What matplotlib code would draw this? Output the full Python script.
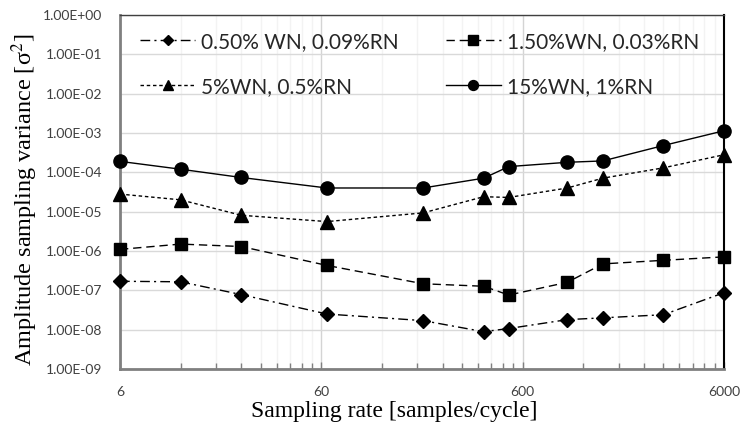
import matplotlib
matplotlib.use("Agg")
import matplotlib.pyplot as plt
from matplotlib.ticker import FixedLocator, NullFormatter, FuncFormatter

# Sampling rates [samples/cycle]
rates = [6, 12, 24, 64, 192, 384, 512, 1000, 1500, 3000, 6000]

# Amplitude sampling variance for each noise level
var_wn050 = [1.7e-7, 1.65e-7, 7.8e-8, 2.5e-8, 1.7e-8, 8.9e-9, 1.07e-8, 1.8e-8, 2.0e-8, 2.4e-8, 8.7e-8]
var_wn150 = [1.1e-6, 1.5e-6, 1.3e-6, 4.3e-7, 1.47e-7, 1.27e-7, 7.6e-8, 1.6e-7, 4.7e-7, 5.8e-7, 7.1e-7]
var_wn5 = [2.8e-5, 2.0e-5, 8.1e-6, 5.6e-6, 9.3e-6, 2.4e-5, 2.3e-5, 4.0e-5, 7.1e-5, 1.3e-4, 2.8e-4]
var_wn15 = [1.9e-4, 1.2e-4, 7.4e-5, 4.0e-5, 4.0e-5, 7.1e-5, 1.4e-4, 1.8e-4, 1.95e-4, 4.8e-4, 1.14e-3]

labels = ["0.50% WN, 0.09%RN", "1.50%WN, 0.03%RN", "5%WN, 0.5%RN", "15%WN, 1%RN"]
x_ticks = [6, 60, 600, 6000]
y_ticks = [10.0 ** e for e in range(-9, 1)]

# Minor x positions: multiples of each decade start (12, 18, ..., 54, 120, ...)
x_minor = [k * base for base in (6, 60, 600) for k in range(2, 10)]

plt.rcParams['mathtext.fontset'] = 'stix'

fig = plt.figure(figsize=(7.43, 4.32), dpi=100)
ax = fig.add_axes([0.1615, 0.1458, 0.8129, 0.8195])

ax.set_xscale('log')
ax.set_yscale('log')
ax.set_xlim(6, 6000)
ax.set_ylim(1e-9, 1e0)

lw = 1.0
common = dict(color='black', lw=lw, clip_on=False, zorder=3)
l1, = ax.plot(rates, var_wn050, dashes=(7, 3, 1.5, 3), marker='D', markersize=7,
              label=labels[0], **common)
l2, = ax.plot(rates, var_wn150, dashes=(6, 3.5), marker='s', markersize=9,
              label=labels[1], **common)
l3, = ax.plot(rates, var_wn5, dashes=(2.5, 2), marker='^', markersize=9.5,
              label=labels[2], **common)
l4, = ax.plot(rates, var_wn15, linestyle='-', marker='o', markersize=9.5,
              label=labels[3], **common)

ax.xaxis.set_major_locator(FixedLocator(x_ticks))
ax.xaxis.set_minor_locator(FixedLocator(x_minor))
ax.xaxis.set_minor_formatter(NullFormatter())
ax.xaxis.set_major_formatter(FuncFormatter(lambda v, p: f"{v:g}"))
ax.yaxis.set_major_locator(FixedLocator(y_ticks))
ax.yaxis.set_minor_locator(FixedLocator([]))
ax.yaxis.set_major_formatter(FuncFormatter(lambda v, p: f"{v:.2E}"))

ax.grid(True, which='major', axis='y', color='#d9d9d9', lw=1.0, zorder=0)
ax.grid(True, which='major', axis='x', color='#d4d4d4', lw=1.0, zorder=0)
ax.grid(True, which='minor', axis='x', color='#f3f3f3', lw=1.0, zorder=0)
ax.set_axisbelow(True)

ax.tick_params(axis='x', which='major', direction='in', length=5, width=1, color='#808080',
               pad=12, labelsize=10, labelcolor='#404040')
ax.tick_params(axis='x', which='minor', direction='in', length=4, width=1, color='#808080')
ax.tick_params(axis='y', which='major', length=0, pad=13, labelsize=10, labelcolor='#404040')
for lab in ax.get_xticklabels() + ax.get_yticklabels():
    lab.set_fontfamily('Lato')

for side in ('left', 'bottom'):
    ax.spines[side].set_color('#808080')
    ax.spines[side].set_linewidth(2.0)
ax.spines['top'].set_color('#404040')
ax.spines['top'].set_linewidth(1.0)
ax.spines['right'].set_color('black')
ax.spines['right'].set_linewidth(1.5)

ax.set_xlabel("Sampling rate [samples/cycle]", fontfamily='Liberation Serif', fontsize=17)
ax.xaxis.set_label_coords(0.454, -0.09)
ax.xaxis.label.set_va('top')
ax.set_ylabel("Amplitude sampling variance [σ$^2$]", fontfamily='Liberation Serif', fontsize=17.5)
ax.yaxis.set_label_coords(-0.132, 0.477)

leg = ax.legend(handles=[l1, l3, l2, l4], ncol=2, frameon=False,
                loc='upper left', bbox_to_anchor=(0.033, 0.953),
                borderpad=0, borderaxespad=0, markerscale=0.75,
                prop={'family': 'Lato', 'size': 15}, handlelength=2.65,
                handletextpad=0.3, columnspacing=2.25, labelspacing=1.2)
for t in leg.get_texts():
    t.set_color('#262626')

fig.savefig("out.png", dpi=100)
